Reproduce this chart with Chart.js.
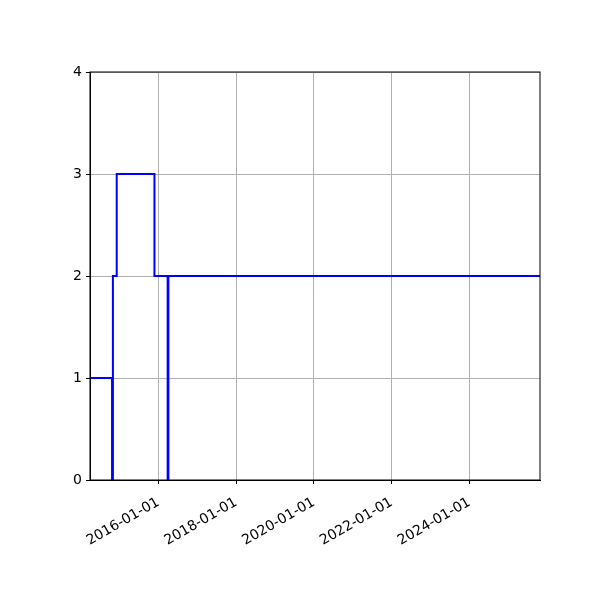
<!DOCTYPE html>
<html>
<head>
<meta charset="utf-8">
<script src="https://cdn.jsdelivr.net/npm/chart.js@4/dist/chart.umd.min.js"></script>
<style>
  html, body { margin: 0; padding: 0; background: #fff; }
  #wrap { width: 600px; height: 600px; }
</style>
</head>
<body>
<div id="wrap"><canvas id="stepChart" width="600" height="600"></canvas></div>
<script>
// --- Data (each point = value from that date on) ---
const changeDates = ['2014-03-31', '2014-10-24', '2014-11-01', '2014-12-07', '2015-11-26', '2016-03-29', '2016-04-05', '2025-10-24'];
const levels = [1, 0, 2, 3, 2, 0, 2, 2];
const tickDates = ['2016-01-01', '2018-01-01', '2020-01-01', '2022-01-01', '2024-01-01'];
const yTicks = [0, 1, 2, 3, 4];

function toMs(s) {
    const p = s.split('-').map(Number);
    return Date.UTC(p[0], p[1] - 1, p[2]);
}

function fmtDate(ms) {
    const d = new Date(ms);
    const mm = String(d.getUTCMonth() + 1).padStart(2, '0');
    const dd = String(d.getUTCDate()).padStart(2, '0');
    return d.getUTCFullYear() + '-' + mm + '-' + dd;
}

const points = changeDates.map((s, i) => ({ x: toMs(s), y: levels[i] }));
const tickValues = tickDates.map(toMs);

// draws the top/right spines that Chart.js leaves out
const frame = {
    id: 'frame',
    afterDraw(chart) {
        const a = chart.chartArea;
        const ctx = chart.ctx;
        ctx.save();
        ctx.strokeStyle = '#000';
        ctx.lineWidth = 1;
        ctx.strokeRect(a.left, a.top, a.right - a.left, a.bottom - a.top);
        ctx.restore();
    }
};

const ctx = document.getElementById('stepChart').getContext('2d');

new Chart(ctx, {
    type: 'line',
    data: {
        datasets: [{
            data: points,
            borderColor: '#0000ff',
            borderWidth: 2,
            stepped: true,
            pointRadius: 0,
            fill: false
        }]
    },
    options: {
        responsive: false,
        animation: false,
        devicePixelRatio: 1,
        layout: { padding: { top: 72, right: 60, left: 0, bottom: 0 } },
        plugins: {
            legend: { display: false },
            tooltip: { enabled: false }
        },
        scales: {
            x: {
                type: 'linear',
                min: toMs(changeDates[0]),
                max: toMs(changeDates[changeDates.length - 1]),
                afterBuildTicks: scale => {
                    scale.ticks = tickValues.map(v => ({ value: v }));
                },
                afterFit: scale => { scale.height = 120; },
                grid: { color: '#b0b0b0', lineWidth: 1, tickColor: '#000', tickLength: 4 },
                border: { color: '#000', width: 1 },
                ticks: {
                    color: '#000',
                    font: { family: 'DejaVu Sans', size: 14 },
                    minRotation: 30,
                    maxRotation: 30,
                    padding: 10,
                    callback: value => fmtDate(value)
                }
            },
            y: {
                min: 0,
                max: 4,
                afterBuildTicks: scale => {
                    scale.ticks = yTicks.map(v => ({ value: v }));
                },
                afterFit: scale => { scale.width = 90; },
                grid: { color: '#b0b0b0', lineWidth: 1, tickColor: '#000', tickLength: 4 },
                border: { color: '#000', width: 1 },
                ticks: {
                    color: '#000',
                    font: { family: 'DejaVu Sans', size: 14 },
                    padding: 4
                }
            }
        }
    },
    plugins: [frame]
});
</script>
</body>
</html>
